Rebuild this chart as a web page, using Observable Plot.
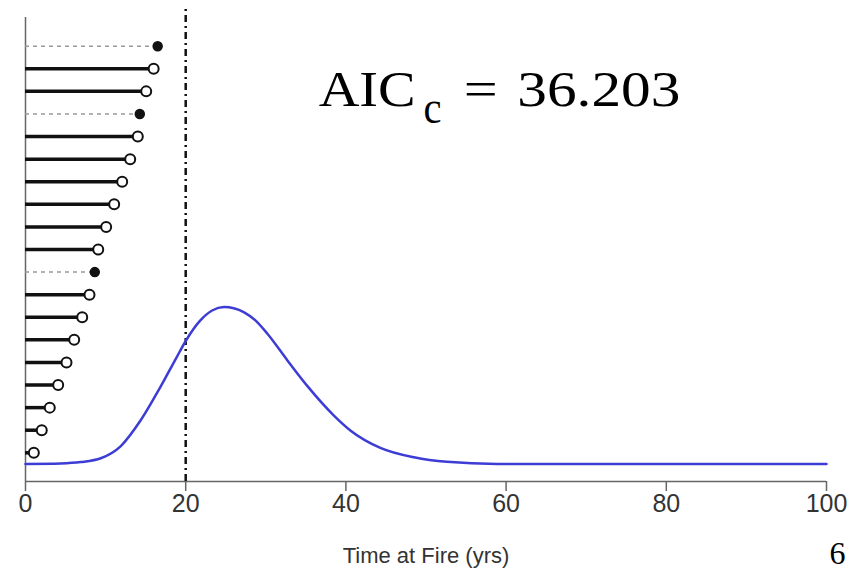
<!DOCTYPE html>
<html>
<head>
<meta charset="utf-8">
<script src="https://cdn.jsdelivr.net/npm/d3@7"></script>
<script src="https://cdn.jsdelivr.net/npm/@observablehq/plot@0.6"></script>
<style>
  html, body { margin: 0; padding: 0; background: #fff; }
  #chart { width: 849px; height: 570px; overflow: hidden; }
</style>
</head>
<body>
<div id="chart"></div>
<script>
// Rows (bottom to top), observed times, and whether the record is a fire (filled, dashed)
const rows = [1,2,3,4,5,6,7,8,9,10,11,12,13,14,15,16,17,18,19];
const times = [1.04,2.03,3.03,4.08,5.12,6.08,7.08,7.99,8.65,9.08,10.07,11.07,12.07,13.07,14.02,14.27,15.07,16.0,16.5];
const fireFlag = [0,0,0,0,0,0,0,0,1,0,0,0,0,0,0,1,0,0,1];

// Fitted density curve (in row units, baseline ~0.5)
const curveX = [0, 4.4, 6.9, 9.4, 11.9, 14.4, 16.9, 18.9, 20.0, 21.8, 23.3, 24.8, 26.0, 27.3, 28.7, 30.2, 32.7, 35.2, 38.5, 40.6, 44.3, 48.5, 52.6, 58.9, 75.5, 100];
const curveY = [0.51, 0.53, 0.59, 0.76, 1.30, 2.45, 3.95, 5.25, 5.95, 6.85, 7.30, 7.45, 7.40, 7.22, 6.86, 6.27, 5.09, 3.95, 2.65, 1.98, 1.22, 0.80, 0.60, 0.51, 0.50, 0.50];

const xTicks = [0, 20, 40, 60, 80, 100];
const threshold = [20];

const records = rows.map((r, i) => ({row: r, time: times[i], fire: fireFlag[i] === 1}));
const solid = records.filter(d => !d.fire);
const dashed = records.filter(d => d.fire);
const curve = curveX.map((x, i) => ({x, y: curveY[i]}));

const yMin = -0.27, yMax = 20.27;
const sans = "'Liberation Sans', Arial, sans-serif";
const serif = "'Liberation Serif', 'Times New Roman', serif";

const chart = Plot.plot({
  width: 849,
  height: 570,
  marginLeft: 25,
  marginRight: 23,
  marginTop: 17,
  marginBottom: 89,
  style: {fontFamily: sans, background: "#fff", overflow: "visible"},
  x: {domain: [0, 100]},
  y: {domain: [yMin, yMax], axis: null},
  marks: [
    // axis lines
    Plot.ruleX([0], {y1: yMin, y2: yMax, stroke: "#666", strokeWidth: 1.5}),
    Plot.ruleY([yMin], {x1: 0, x2: 100, stroke: "#666", strokeWidth: 1.5}),
    Plot.axisX({ticks: xTicks, tickSize: 10, tickPadding: 3, fontSize: 25, stroke: "#666", strokeWidth: 1.5, fill: "#333", label: null}),
    // threshold dash-dot line
    Plot.ruleX(threshold, {y1: yMin, y2: 20.7, stroke: "#111", strokeWidth: 2.5, strokeDasharray: "7,4,2,4"}),
    // record lines
    Plot.ruleY(solid, {y: "row", x1: 0, x2: "time", stroke: "#111", strokeWidth: 3.5}),
    Plot.ruleY(dashed, {y: "row", x1: 0, x2: "time", stroke: "#999", strokeWidth: 1.5, strokeDasharray: "4,4"}),
    Plot.dot(solid, {x: "time", y: "row", r: 5, fill: "#fff", stroke: "#111", strokeWidth: 2}),
    Plot.dot(dashed, {x: "time", y: "row", r: 4.5, fill: "#111", stroke: "#111"}),
    // fitted curve
    Plot.line(curve, {x: "x", y: "y", stroke: "#3d3dd6", strokeWidth: 2.5, curve: "monotone-x"}),
    // annotation AICc = 36.203
    Plot.text(["AIC"], {x: 36.6, y: 16.374, text: d => d, textAnchor: "start", lineAnchor: "bottom", fontSize: 51, fontFamily: serif, fill: "#000"}),
    Plot.text(["c"], {x: 49.7, y: 16.374, dy: 17, text: d => d, textAnchor: "start", lineAnchor: "bottom", fontSize: 46, fontFamily: serif, fill: "#000"}),
    Plot.text(["="], {x: 54.7, y: 16.374, text: d => d, textAnchor: "start", lineAnchor: "bottom", fontSize: 51, fontFamily: serif, fill: "#000"}),
    Plot.text(["36.203"], {x: 61.4, y: 16.374, text: d => d, textAnchor: "start", lineAnchor: "bottom", fontSize: 51, fontFamily: serif, fill: "#000"}),
    // axis title
    Plot.text(["Time at Fire (yrs)"], {frameAnchor: "bottom", dy: 74, text: d => d, fontSize: 22, fontFamily: sans, fill: "#333", lineAnchor: "middle"}),
    // slide number
    Plot.text(["6"], {frameAnchor: "bottom-right", dx: 3, dy: 60, text: d => d, textAnchor: "start", lineAnchor: "top", fontSize: 32, fontFamily: serif, fill: "#000"})
  ]
});

// stretch annotation pieces horizontally to match the reference widths
const stretch = {"AIC": 97, "c": 18, "=": 34, "36.203": 163};
chart.querySelectorAll("text").forEach(t => {
  const s = t.textContent;
  if (Object.prototype.hasOwnProperty.call(stretch, s)) {
    t.setAttribute("textLength", stretch[s]);
    t.setAttribute("lengthAdjust", "spacingAndGlyphs");
  }
});

document.getElementById("chart").appendChild(chart);
</script>
</body>
</html>
